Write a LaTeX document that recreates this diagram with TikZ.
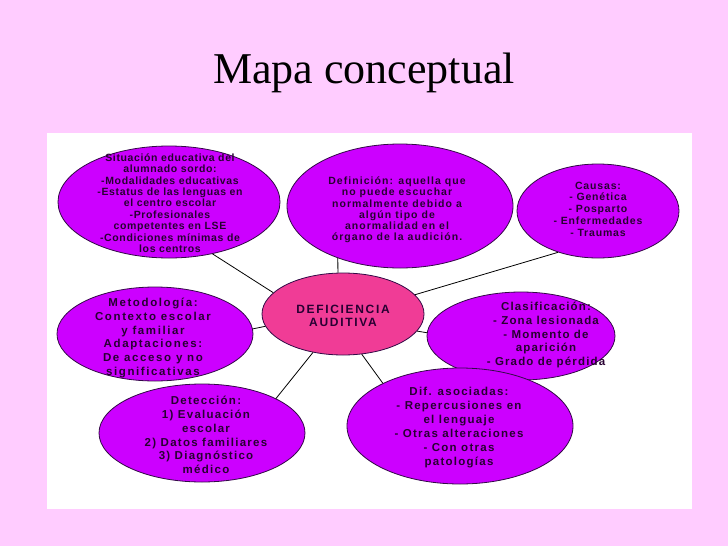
\documentclass[tikz,border=0pt]{standalone}
\usepackage{fontspec}
\setmainfont{Liberation Serif}
\newfontfamily\mapfont{Liberation Sans}
\usetikzlibrary{shapes.geometric}
\definecolor{slide}{RGB}{255,204,255}
\definecolor{idea}{RGB}{204,0,255}
\definecolor{core}{RGB}{240,60,150}
\definecolor{ink}{RGB}{40,0,50}
\definecolor{rim}{RGB}{50,10,70}

\begin{document}
\begin{tikzpicture}[x=1pt, y=-1pt,
    bubble/.style={ellipse, draw=rim, line width=0.8pt, fill=idea, inner sep=0pt},
    txt/.style n args={3}{align=center, text=ink, inner sep=0pt,
      font={\mapfont\bfseries\fontsize{#1}{#2}\selectfont\addfontfeature{LetterSpace=#3}}},
    link/.style={draw=black, line width=0.8pt}]
  % Slide and panel
  \fill[slide] (0,0) rectangle (728,546);
  \fill[white] (47,133) rectangle (692,509);
  \useasboundingbox (0,0) rectangle (728,546);
  % Title
  \node[anchor=base, font=\fontsize{44}{50}\selectfont] (title) at (364,83) {Mapa conceptual};
  % Bubbles
  \node[bubble, minimum width=222, minimum height=112] (sit) at (169,202) {};
  \node[bubble, minimum width=226, minimum height=124] (def) at (400,206) {};
  \node[bubble, minimum width=162, minimum height=94] (cau) at (598,211) {};
  \node[bubble, minimum width=196, minimum height=94] (met) at (155,334) {};
  \node[bubble, fill=core, minimum width=162, minimum height=82] (ctr) at (343,314) {};
  \node[bubble, minimum width=188, minimum height=88] (cla) at (521,336) {};
  \node[bubble, minimum width=206, minimum height=98] (det) at (202,433) {};
  \node[bubble, minimum width=226, minimum height=116] (dif) at (460,426) {};
  % Texts
  \node[txt={10.5}{11.4}{6}] (sit-t) at (170,203) {Situación educativa del\\alumnado sordo:\\-Modalidades educativas\\-Estatus de las lenguas en\\el centro escolar\\-Profesionales\\competentes en LSE\\-Condiciones mínimas de\\los centros};
  \node[txt={10.5}{11.3}{10}] (def-t) at (397,210) {Definición: aquella que\\no puede escuchar\\normalmente debido a\\algún tipo de\\anormalidad en el\\órgano de la audición.};
  \node[txt={10.5}{11.8}{8}] (cau-t) at (598,209) {Causas:\\- Genética\\- Posparto\\- Enfermedades\\- Traumas};
  \node[txt={11.5}{13.8}{14}] (met-t) at (153,338) {Metodología:\\Contexto escolar\\y familiar\\Adaptaciones:\\De acceso y no\\significativas};
  \node[txt={12}{13}{14}] (ctr-t) at (343,316) {DEFICIENCIA\\AUDITIVA};
  \node[txt={11.5}{13.8}{10}] (cla-t) at (546,335) {Clasificación:\\- Zona lesionada\\- Momento de\\aparición\\- Grado de pérdida};
  \node[txt={11.5}{13.7}{11}] (det-t) at (206,435) {Detección:\\1) Evaluación\\escolar\\2) Datos familiares\\3) Diagnóstico\\médico};
  \node[txt={11.5}{14}{11}] (dif-t) at (459,428) {Dif. asociadas:\\- Repercusiones en\\el lenguaje\\- Otras alteraciones\\- Con otras\\patologías};
  % Connectors
  \draw[link] (ctr.163) -- (sit.-50);
  \draw[link] (ctr.97) -- (def.-140);
  \draw[link] (ctr.15) -- (cau.-134);
  \draw[link] (ctr.189) -- (met.3);
  \draw[link] (ctr.-13) -- (cla.178);
  \draw[link] (ctr.-128) -- (det.25);
  \draw[link] (ctr.-65) -- (dif.151);
\end{tikzpicture}
\end{document}
